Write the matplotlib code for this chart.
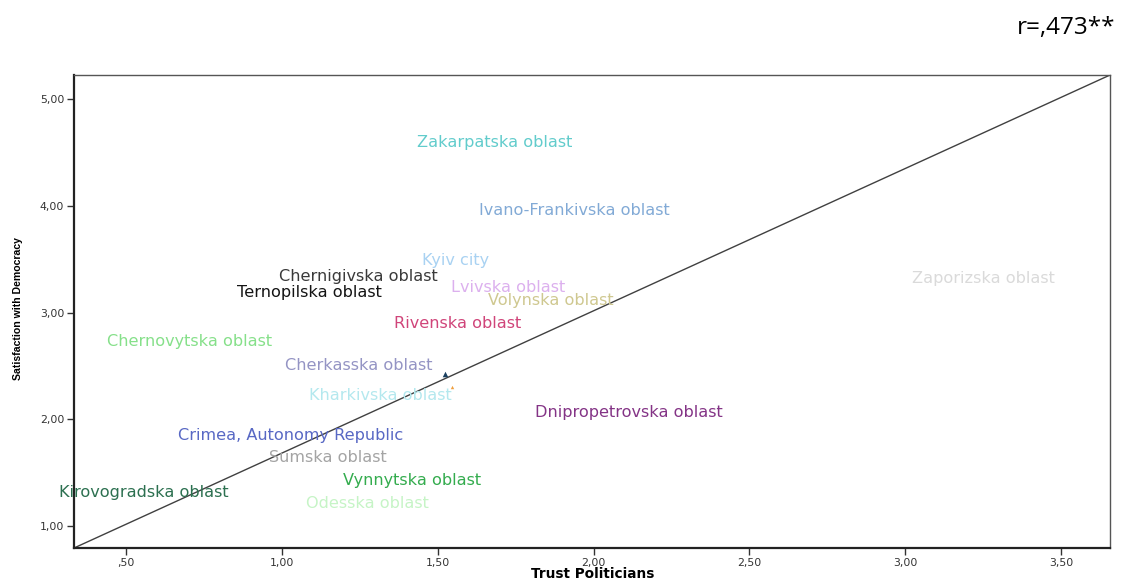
import matplotlib
matplotlib.use("Agg")
import matplotlib.pyplot as plt
from matplotlib.ticker import FixedLocator, FuncFormatter

# Regional means: trust in politicians vs. satisfaction with democracy
regions = [
    "Zakarpatska oblast", "Ivano-Frankivska oblast", "Kyiv city",
    "Chernigivska oblast", "Ternopilska oblast", "Lvivska oblast",
    "Volynska oblast", "Zaporizska oblast", "Rivenska oblast",
    "Chernovytska oblast", "Cherkasska oblast", "Kharkivska oblast",
    "Dnipropetrovska oblast", "Crimea, Autonomy Republic", "Sumska oblast",
    "Vynnytska oblast", "Kirovogradska oblast", "Odesska oblast",
]
trust = [1.684, 1.938, 1.556, 1.247, 1.087, 1.726, 1.864, 3.251, 1.565,
         0.705, 1.247, 1.315, 2.114, 1.029, 1.148, 1.417, 0.557, 1.273]
satisfaction = [4.588, 3.951, 3.49, 3.333, 3.192, 3.23, 3.108, 3.323, 2.90,
                2.733, 2.50, 2.227, 2.059, 1.852, 1.646, 1.431, 1.318, 1.215]
colors = ["#62cccc", "#82aad6", "#a9d2f2", "#3a3a3a", "#141414", "#dcb0ee",
          "#cfc890", "#dadada", "#d0457a", "#86e08a", "#9494c4", "#b4e8ee",
          "#843486", "#5868c4", "#a4a4a4", "#34ac4e", "#2c7050", "#c6f4c6"]

# Two unlabeled points shown with markers
extra_trust = [1.523, 1.546]
extra_satisfaction = [2.42, 2.30]
extra_colors = ["#1a4060", "#f0a040"]
extra_markers = ["^", "^"]
extra_sizes = [16, 6]

# Reference line y = a + b x
line_intercept = 0.350
line_slope = 1.333

x_ticks = [0.5, 1.0, 1.5, 2.0, 2.5, 3.0, 3.5]
y_ticks = [1.0, 2.0, 3.0, 4.0, 5.0]
x_limits = (0.333, 3.657)
y_limits = (0.794, 5.225)

fig = plt.figure(figsize=(11.24, 5.81), dpi=100)
ax = fig.add_axes([74 / 1124, 1 - 548 / 581, (1110 - 74) / 1124, (548 - 75) / 581])
ax.set_xlim(*x_limits)
ax.set_ylim(*y_limits)

for name, x, y, c in zip(regions, trust, satisfaction, colors):
    ax.text(x, y, name, color=c, fontsize=11.6, family="DejaVu Sans",
            ha="center", va="center", zorder=3)

for x, y, c, m, s in zip(extra_trust, extra_satisfaction, extra_colors,
                         extra_markers, extra_sizes):
    ax.scatter([x], [y], marker=m, s=s, color=c, linewidths=0, zorder=4)

xs = list(x_limits)
ax.plot(xs, [line_intercept + line_slope * v for v in xs],
        color="#404040", lw=1.0, zorder=2, clip_on=True)

fmt = FuncFormatter(lambda v, p: ("%.2f" % v).replace("0.", ".").replace(".", ","))
ax.xaxis.set_major_locator(FixedLocator(x_ticks))
ax.yaxis.set_major_locator(FixedLocator(y_ticks))
ax.xaxis.set_major_formatter(fmt)
ax.yaxis.set_major_formatter(fmt)
ax.tick_params(axis="both", direction="out", length=5, width=1, color="#333333",
               labelsize=7.8, labelcolor="#333333", pad=2)
for lab in ax.get_xticklabels() + ax.get_yticklabels():
    lab.set_family("DejaVu Sans")

ax.spines["left"].set_linewidth(1.6)
ax.spines["bottom"].set_linewidth(1.6)
ax.spines["left"].set_color("#222222")
ax.spines["bottom"].set_color("#222222")
ax.spines["top"].set_linewidth(1.0)
ax.spines["right"].set_linewidth(1.0)
ax.spines["top"].set_color("#555555")
ax.spines["right"].set_color("#555555")

fig.text(593 / 1124, 1 - 574 / 581, "Trust Politicians", fontsize=9.8,
         fontweight="bold", family="DejaVu Sans", ha="center", va="center")
fig.text(18 / 1124, 1 - 308 / 581, "Satisfaction with Democracy", rotation=90,
         fontsize=7.6, fontweight="bold", family="Liberation Sans",
         ha="center", va="center")

fig.text(1066 / 1124, 1 - 28 / 581, "r=,473**", fontsize=17.5,
         family=["Open Sans", "DejaVu Sans"], ha="center", va="center")

fig.savefig("out.png", dpi=100)
